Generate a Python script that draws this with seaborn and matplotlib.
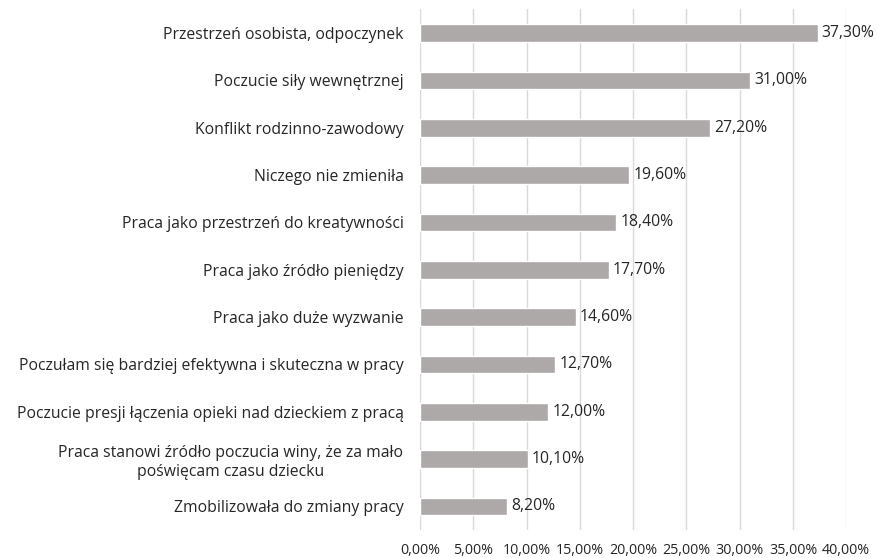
import matplotlib
matplotlib.use("Agg")
import matplotlib.pyplot as plt
import seaborn as sns
import pandas as pd
from matplotlib.ticker import FuncFormatter

# data
categories = [
    "Przestrzeń osobista, odpoczynek",
    "Poczucie siły wewnętrznej",
    "Konflikt rodzinno-zawodowy",
    "Niczego nie zmieniła",
    "Praca jako przestrzeń do kreatywności",
    "Praca jako źródło pieniędzy",
    "Praca jako duże wyzwanie",
    "Poczułam się bardziej efektywna i skuteczna w pracy",
    "Poczucie presji łączenia opieki nad dzieckiem z pracą",
    "Praca stanowi źródło poczucia winy, że za mało\npoświęcam czasu dziecku",
    "Zmobilizowała do zmiany pracy",
]
values = [37.3, 31.0, 27.2, 19.6, 18.4, 17.7, 14.6, 12.7, 12.0, 10.1, 8.2]
x_ticks = [0, 5, 10, 15, 20, 25, 30, 35, 40]

df = pd.DataFrame({"category": categories, "value": values})


def pl_pct(v):
    return f"{v:.2f}%".replace(".", ",")


sns.set_theme(style="white")
plt.rcParams["font.family"] = ["Open Sans", "DejaVu Sans"]

fig, ax = plt.subplots(figsize=(8.77, 5.58), dpi=100)
fig.subplots_adjust(left=0.479, right=0.965, top=0.983, bottom=0.05)

sns.barplot(data=df, x="value", y="category", color="#ADA9A8", saturation=1,
            width=0.37, ax=ax, zorder=3)

for i, v in enumerate(values):
    ax.text(v + 0.4, i, pl_pct(v), va="center", ha="left", fontsize=11.3, color="#262626")

ax.set_xlim(0, 40)
ax.set_xticks(x_ticks)
ax.xaxis.set_major_formatter(FuncFormatter(lambda v, p: pl_pct(v)))
ax.grid(axis="x", color="#D9D9D9", linewidth=1, zorder=0)
ax.set_xlabel("")
ax.set_ylabel("")
for s in ax.spines.values():
    s.set_visible(False)
ax.tick_params(axis="x", length=0, labelsize=10.3, colors="#262626", pad=9)
ax.tick_params(axis="y", length=0, labelsize=11.3, colors="#262626", pad=12)
for lbl in ax.get_yticklabels():
    lbl.set_horizontalalignment("right")
    lbl.set_multialignment("center")

fig.savefig("out.png", dpi=100)
